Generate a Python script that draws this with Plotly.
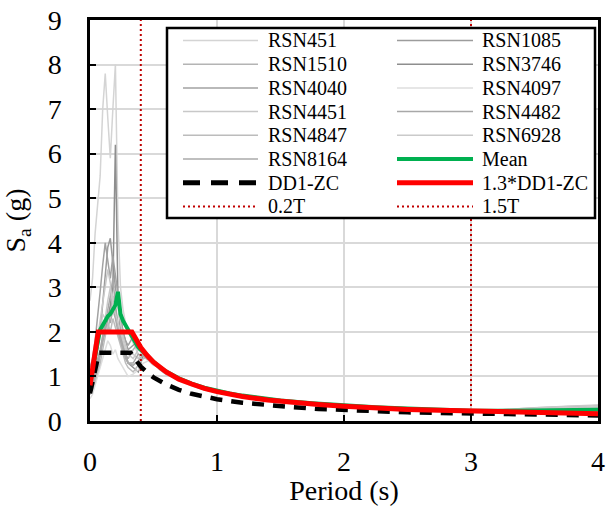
import plotly.graph_objects as go

# ---------------- data ----------------
period = [0.00, 0.02, 0.04, 0.06, 0.08, 0.10, 0.12, 0.14, 0.16, 0.18, 0.20, 0.22, 0.24, 0.26, 0.28, 0.30,
          0.34, 0.38, 0.42, 0.46, 0.50, 0.55, 0.60, 0.70, 0.80, 0.90, 1.00, 1.10, 1.20, 1.35, 1.50,
          1.75, 2.00, 2.25, 2.50, 2.75, 3.00, 3.25, 3.50, 3.75, 4.00]

record_names = ["RSN451", "RSN1085", "RSN1510", "RSN3746", "RSN4040", "RSN4097",
                "RSN4451", "RSN4482", "RSN4847", "RSN6928", "RSN8164"]

rsn451 = [2.7, 3.2, 4.2, 4.8, 5.5, 7.0, 7.8, 6.8, 5.9, 7.0, 8.0, 4.5, 3.0, 2.5, 2.2, 2.0,
          1.75, 1.5, 1.45, 1.35, 1.25, 1.2, 1.1, 0.95, 0.82, 0.74, 0.66, 0.6, 0.55, 0.5, 0.45,
          0.38, 0.34, 0.3, 0.27, 0.25, 0.23, 0.24, 0.26, 0.28, 0.30]
rsn1085 = [0.9, 1.0, 1.3, 1.6, 2.0, 2.6, 3.2, 3.9, 4.1, 3.5, 3.0, 2.6, 2.3, 2.0, 1.8, 1.6,
           1.7, 1.8, 1.6, 1.45, 1.35, 1.2, 1.1, 0.95, 0.84, 0.73, 0.66, 0.6, 0.55, 0.49, 0.44,
           0.38, 0.33, 0.3, 0.27, 0.25, 0.22, 0.21, 0.2, 0.19, 0.18]
rsn1510 = [0.6, 0.7, 0.9, 1.2, 1.5, 1.9, 2.2, 2.0, 2.4, 2.8, 2.5, 2.1, 1.8, 1.6, 1.5, 1.4,
           1.6, 1.75, 1.5, 1.4, 1.32, 1.2, 1.08, 0.92, 0.8, 0.72, 0.64, 0.58, 0.53, 0.48, 0.43,
           0.37, 0.32, 0.29, 0.26, 0.24, 0.22, 0.25, 0.3, 0.33, 0.35]
rsn3746 = [0.7, 0.8, 1.0, 1.3, 1.5, 1.8, 2.0, 2.3, 2.6, 3.0, 6.2, 2.8, 2.0, 1.7, 1.5, 1.3,
           1.2, 1.1, 1.5, 1.45, 1.3, 1.15, 1.05, 0.92, 0.8, 0.7, 0.64, 0.58, 0.53, 0.47, 0.42,
           0.36, 0.32, 0.28, 0.25, 0.23, 0.21, 0.2, 0.19, 0.18, 0.17]
rsn4040 = [1.2, 1.4, 1.8, 2.3, 2.9, 3.5, 4.0, 3.6, 3.2, 3.7, 3.3, 2.9, 2.4, 2.0, 1.8, 1.7,
           1.9, 1.65, 1.55, 1.42, 1.3, 1.18, 1.1, 0.94, 0.82, 0.73, 0.67, 0.6, 0.55, 0.49, 0.44,
           0.38, 0.34, 0.3, 0.27, 0.25, 0.22, 0.22, 0.23, 0.24, 0.25]
rsn4097 = [0.5, 0.6, 0.8, 1.0, 1.2, 1.4, 1.6, 1.8, 1.7, 1.5, 1.6, 1.4, 1.3, 1.2, 1.1, 1.0,
           1.05, 1.15, 1.3, 1.35, 1.28, 1.16, 1.06, 0.9, 0.79, 0.7, 0.63, 0.57, 0.52, 0.46, 0.41,
           0.35, 0.31, 0.27, 0.24, 0.22, 0.2, 0.19, 0.18, 0.17, 0.16]
rsn4451 = [1.0, 1.2, 1.5, 1.9, 2.3, 2.7, 3.0, 3.4, 3.1, 2.7, 2.9, 2.5, 2.2, 1.9, 1.7, 1.5,
           1.5, 1.4, 1.6, 1.5, 1.35, 1.22, 1.12, 0.96, 0.83, 0.74, 0.67, 0.6, 0.55, 0.49, 0.44,
           0.38, 0.33, 0.29, 0.26, 0.24, 0.22, 0.24, 0.27, 0.3, 0.32]
rsn4482 = [0.8, 0.9, 1.1, 1.4, 1.6, 1.9, 2.2, 2.5, 2.8, 3.2, 2.6, 2.2, 1.9, 1.7, 1.5, 1.3,
           1.3, 1.5, 1.45, 1.38, 1.3, 1.18, 1.08, 0.93, 0.81, 0.72, 0.65, 0.59, 0.54, 0.48, 0.43,
           0.37, 0.33, 0.29, 0.26, 0.24, 0.22, 0.23, 0.25, 0.27, 0.28]
rsn4847 = [0.6, 0.7, 0.9, 1.1, 1.3, 1.6, 1.9, 2.2, 2.0, 2.3, 2.1, 1.9, 1.7, 1.5, 1.3, 1.2,
           1.1, 1.25, 1.4, 1.42, 1.32, 1.2, 1.1, 0.94, 0.82, 0.73, 0.66, 0.6, 0.55, 0.49, 0.44,
           0.38, 0.33, 0.29, 0.26, 0.24, 0.22, 0.22, 0.22, 0.23, 0.24]
rsn6928 = [0.9, 1.1, 1.4, 1.7, 2.0, 2.4, 2.3, 2.7, 3.0, 2.6, 2.4, 2.2, 2.0, 1.8, 1.6, 1.5,
           1.4, 1.6, 1.5, 1.4, 1.3, 1.2, 1.1, 0.95, 0.83, 0.74, 0.66, 0.6, 0.55, 0.49, 0.44,
           0.38, 0.34, 0.3, 0.27, 0.25, 0.23, 0.26, 0.3, 0.33, 0.36]
rsn8164 = [0.7, 0.8, 1.0, 1.2, 1.5, 1.8, 2.1, 2.4, 2.2, 2.5, 2.3, 2.0, 1.8, 1.6, 1.4, 1.3,
           1.25, 1.35, 1.5, 1.4, 1.3, 1.18, 1.08, 0.93, 0.81, 0.72, 0.65, 0.59, 0.54, 0.48, 0.43,
           0.37, 0.33, 0.29, 0.26, 0.24, 0.22, 0.22, 0.23, 0.25, 0.27]

mean_sa = [0.85, 1.15, 1.5, 1.85, 2.05, 2.15, 2.25, 2.35, 2.4, 2.5, 2.6, 2.9, 2.4, 2.25, 2.15, 2.05,
           1.85, 1.65, 1.55, 1.43, 1.33, 1.21, 1.11, 0.96, 0.84, 0.75, 0.68, 0.62, 0.57, 0.51, 0.46,
           0.40, 0.35, 0.31, 0.28, 0.25, 0.23, 0.23, 0.24, 0.24, 0.25]

dd1_period = [0.0, 0.07, 0.32, 0.36, 0.40, 0.45, 0.50, 0.60, 0.70, 0.80, 0.90, 1.00, 1.20, 1.40,
              1.60, 1.80, 2.00, 2.25, 2.50, 2.75, 3.00, 3.25, 3.50, 3.75, 4.00]
dd1_sa = [0.62, 1.53, 1.53, 1.36, 1.22, 1.09, 0.98, 0.82, 0.70, 0.61, 0.54, 0.49, 0.41, 0.35,
          0.31, 0.27, 0.245, 0.22, 0.195, 0.18, 0.165, 0.15, 0.14, 0.13, 0.125]

dd1x13_period = [0.0, 0.065, 0.33, 0.36, 0.40, 0.45, 0.50, 0.60, 0.70, 0.80, 0.90, 1.00, 1.20, 1.40,
                 1.60, 1.80, 2.00, 2.25, 2.50, 2.75, 3.00, 3.25, 3.50, 3.75, 4.00]
dd1x13_sa = [0.80, 2.0, 2.0, 1.83, 1.65, 1.47, 1.32, 1.10, 0.94, 0.83, 0.73, 0.66, 0.55, 0.47,
             0.41, 0.37, 0.33, 0.29, 0.26, 0.24, 0.22, 0.20, 0.19, 0.18, 0.165]

t_02 = 0.4
t_15 = 3.0
y_span = [0, 9]

legend_order = ["RSN451", "RSN1085", "RSN1510", "RSN3746", "RSN4040", "RSN4097",
                "RSN4451", "RSN4482", "RSN4847", "RSN6928", "RSN8164", "Mean",
                "DD1-ZC", "1.3*DD1-ZC", "0.2T", "1.5T"]

# ---------------- styles ----------------
records = [rsn451, rsn1085, rsn1510, rsn3746, rsn4040, rsn4097,
           rsn4451, rsn4482, rsn4847, rsn6928, rsn8164]
grey_shades = ["#d4d4d4", "#9c9c9c", "#b4b4b4", "#8e8e8e", "#a2a2a2", "#dedede",
               "#c8c8c8", "#a8a8a8", "#bcbcbc", "#cacaca", "#aaaaaa"]

FONT = "Liberation Serif"
DOT_RED = "#c00000"

styles = {}
for name, col in zip(record_names, grey_shades):
    styles[name] = dict(color=col, width=1.5)
styles["Mean"] = dict(color="#00b050", width=4)
styles["DD1-ZC"] = dict(color="black", width=4.5, dash="12px,9px")
styles["1.3*DD1-ZC"] = dict(color="#ff0000", width=5)
styles["0.2T"] = dict(color=DOT_RED, width=2, dash="2px,3px")
styles["1.5T"] = dict(color=DOT_RED, width=2, dash="2px,3px")

fig = go.Figure()
for name, vals in zip(record_names, records):
    fig.add_trace(go.Scatter(x=period, y=vals, mode="lines", name=name, line=styles[name]))
fig.add_trace(go.Scatter(x=[t_02, t_02], y=y_span, mode="lines", name="0.2T", line=styles["0.2T"]))
fig.add_trace(go.Scatter(x=[t_15, t_15], y=y_span, mode="lines", name="1.5T", line=styles["1.5T"]))
fig.add_trace(go.Scatter(x=period, y=mean_sa, mode="lines", name="Mean", line=styles["Mean"]))
fig.add_trace(go.Scatter(x=dd1_period, y=dd1_sa, mode="lines", name="DD1-ZC", line=styles["DD1-ZC"]))
fig.add_trace(go.Scatter(x=dd1x13_period, y=dd1x13_sa, mode="lines", name="1.3*DD1-ZC",
                         line=styles["1.3*DD1-ZC"]))

# ---------------- layout geometry (pixels) ----------------
W, H = 606, 506
ML, MR, MT, MB = 90, 8, 20, 85
PW, PH = W - ML - MR, H - MT - MB


def px(xp):
    return (xp - ML) / PW


def py(yp):
    return (H - MB - yp) / PH


shapes = []
annotations = []
# legend box
shapes.append(dict(type="rect", xref="paper", yref="paper", layer="above",
                   x0=px(167), x1=px(595), y0=py(218), y1=py(28),
                   fillcolor="white", line=dict(color="black", width=2.5)))
row0, row_step = 40.5, 23.7
col_line = [(183, 258), (397, 473)]
col_text = [266, 480]
for k, name in enumerate(legend_order):
    r, c = divmod(k, 2)
    yy = py(row0 + r * row_step)
    st = dict(styles[name])
    if name == "DD1-ZC":
        st = dict(color="black", width=5, dash="17px,11px")
    shapes.append(dict(type="line", xref="paper", yref="paper", layer="above",
                       x0=px(col_line[c][0]), x1=px(col_line[c][1]), y0=yy, y1=yy, line=st))
    annotations.append(dict(text=name, xref="paper", yref="paper", x=px(col_text[c]), y=yy,
                            xanchor="left", yanchor="middle", showarrow=False,
                            font=dict(family=FONT, size=20, color="black")))

axis_common = dict(showline=True, linecolor="black", linewidth=2.5, mirror=True,
                   showgrid=True, gridcolor="#d9d9d9", gridwidth=2,
                   ticks="inside", ticklen=6, tickwidth=2, tickcolor="black",
                   tickfont=dict(family=FONT, size=28, color="black"),
                   zeroline=False, fixedrange=True, automargin=False)

fig.update_layout(
    width=W, height=H,
    margin=dict(l=ML, r=MR, t=MT, b=MB),
    paper_bgcolor="white", plot_bgcolor="white",
    font=dict(family=FONT, color="black"),
    xaxis=dict(range=[0, 4], tick0=0, dtick=1, ticklabelstandoff=14,
               title=dict(text="Period (s)", font=dict(family=FONT, size=28)),
               **axis_common),
    yaxis=dict(range=[0, 9], tick0=0, dtick=1, ticklabelstandoff=20,
               title=dict(text="S<sub>a</sub> (g)", font=dict(family=FONT, size=28)),
               **axis_common),
    showlegend=False,
    shapes=shapes,
    annotations=annotations,
)

fig.write_html("out.html")
